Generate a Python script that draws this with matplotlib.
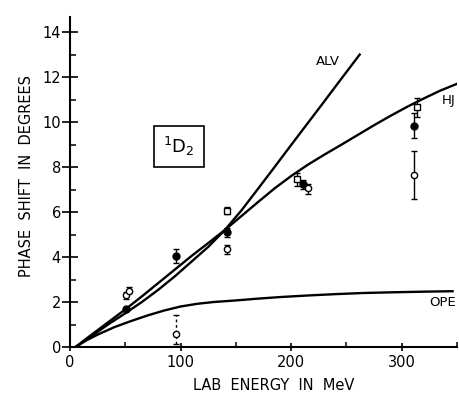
import matplotlib
matplotlib.use("Agg")
import matplotlib.pyplot as plt
from matplotlib.ticker import MultipleLocator

# theory curves (energy MeV, phase shift deg)
hj_e = [5, 15, 25, 35, 50, 65, 80, 95, 110, 125, 140, 155, 170, 185, 200, 215,
        230, 245, 260, 275, 290, 305, 320, 335, 350]
hj_d = [0, 0.38, 0.75, 1.12, 1.67, 2.25, 2.85, 3.45, 4.05, 4.62, 5.2, 5.82, 6.44,
        7.05, 7.6, 8.1, 8.55, 8.98, 9.42, 9.86, 10.28, 10.68, 11.05, 11.4, 11.7]

alv_e = [5, 20, 35, 50, 65, 80, 95, 110, 125, 140, 155, 170, 185, 200, 215, 230, 245, 262]
alv_d = [0, 0.5, 1.02, 1.5, 2.0, 2.55, 3.15, 3.8, 4.45, 5.2, 6.07, 7.03, 8.0, 8.98,
         9.95, 10.92, 11.9, 13.0]

ope_e = [5, 15, 25, 40, 55, 70, 85, 100, 115, 130, 150, 170, 190, 215, 240, 265, 290, 320, 346]
ope_d = [0, 0.3, 0.55, 0.88, 1.15, 1.4, 1.62, 1.8, 1.92, 2.0, 2.07, 2.15, 2.22, 2.29,
         2.35, 2.4, 2.43, 2.46, 2.48]

# experimental points
full_e = [51, 95.5, 142, 211, 311]
full_d = [1.67, 4.05, 5.1, 7.24, 9.84]
full_lo = [0, 0.3, 0.2, 0.2, 0.55]
full_hi = [0, 0.3, 0.2, 0.2, 0.55]

open_e = [51, 53, 142, 215, 311.5]
open_d = [2.3, 2.5, 4.35, 7.05, 7.65]
open_lo = [0.15, 0.1, 0.2, 0.25, 1.05]
open_hi = [0.15, 0.15, 0.2, 0.2, 1.05]

sq_e = [142, 205, 314]
sq_d = [6.06, 7.45, 10.68]
sq_lo = [0.15, 0.3, 0.45]
sq_hi = [0.15, 0.3, 0.4]

# the dashed one near 95 MeV
low_e = [95.5]
low_d = [0.58]
low_lo = [0.45]
low_hi = [0.85]

fig = plt.figure(figsize=(4.59, 3.98), dpi=100)
ax = fig.add_axes([70/459, 51/398, 387/459, 330/398])

lw = 1.7
ax.plot(hj_e, hj_d, color='black', lw=lw)
ax.plot(alv_e, alv_d, color='black', lw=lw)
ax.plot(ope_e, ope_d, color='black', lw=lw)

ek = dict(ecolor='black', elinewidth=1, capsize=2.5, capthick=1, ls='none', zorder=5)
ax.errorbar(full_e, full_d, yerr=[full_lo, full_hi], fmt='o', ms=5,
            mfc='black', mec='black', **ek)
ax.errorbar(open_e, open_d, yerr=[open_lo, open_hi], fmt='o', ms=4.5,
            mfc='white', mec='black', mew=1, **ek)
ax.errorbar(sq_e, sq_d, yerr=[sq_lo, sq_hi], fmt='s', ms=4,
            mfc='white', mec='black', mew=1, **ek)
eb = ax.errorbar(low_e, low_d, yerr=[low_lo, low_hi], fmt='o', ms=4.5,
                 mfc='white', mec='black', mew=1, **ek)
eb[2][0].set_linestyle((0, (2, 2)))

ax.text(232.8, 12.7, 'ALV', ha='center', va='center', fontsize=9.5)
ax.text(342.7, 10.98, 'HJ', ha='center', va='center', fontsize=9.5)
ax.text(336.8, 1.96, 'OPE', ha='center', va='center', fontsize=9.5)

ax.text(98.4, 8.9, r'$^{1}\mathrm{D}_{2}$', ha='center', va='center', fontsize=13,
        bbox=dict(boxstyle='square,pad=0.5', fc='white', ec='black', lw=1.2))

ax.set_xlim(0, 350)
ax.set_ylim(0, 14.67)
ax.spines['top'].set_visible(False)
ax.spines['right'].set_visible(False)
ax.spines['left'].set_linewidth(1.5)
ax.spines['bottom'].set_linewidth(1.5)

ax.xaxis.set_major_locator(MultipleLocator(100))
ax.xaxis.set_minor_locator(MultipleLocator(50))
ax.yaxis.set_major_locator(MultipleLocator(2))
ax.yaxis.set_minor_locator(MultipleLocator(1))
ax.tick_params(axis='y', which='major', direction='inout', length=11, width=1.2,
               labelsize=10.5, pad=1)
ax.tick_params(axis='y', which='minor', direction='in', length=4.5, width=1.1)
ax.tick_params(axis='x', which='major', direction='inout', length=6, width=1.2,
               labelsize=10.5, pad=3)
ax.tick_params(axis='x', which='minor', direction='in', length=3.5, width=1.1)

fig.text(27/459, 1 - 176/398, 'PHASE  SHIFT  IN  DEGREES', rotation=90,
         ha='center', va='center', fontsize=10.5)
fig.text(274/459, 1 - 385/398, 'LAB  ENERGY  IN  MeV', ha='center', va='center',
         fontsize=10.5)

fig.savefig('out.png', dpi=100)
